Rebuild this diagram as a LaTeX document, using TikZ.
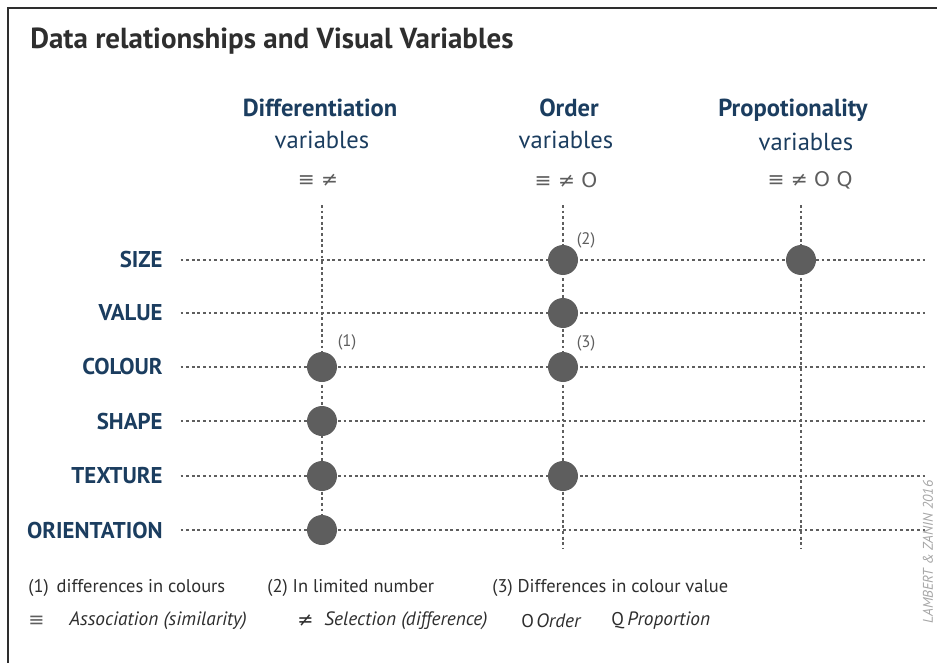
\documentclass[tikz,border=0pt]{standalone}
\usepackage{fontspec}
\usepackage{xcolor}
\usepackage{tikz}
\setmainfont{PT Sans}
\newfontfamily\symfont{DejaVu Sans}
\definecolor{navy}{HTML}{1B3D5F}
\definecolor{dotgray}{HTML}{5E5E5E}
\definecolor{txtgray}{HTML}{2E2E2E}

\begin{document}
\begin{tikzpicture}[x=0.02cm,y=-0.02cm,
      rowlabel/.style={anchor=east,inner sep=0pt,text=navy,
        font=\bfseries\fontsize{13}{15}\selectfont},
      colhead/.style={inner sep=0pt,text=navy,
        font=\bfseries\fontsize{14}{16}\selectfont},
      colsub/.style={inner sep=0pt,text=navy,font=\fontsize{14}{16}\selectfont},
      symbols/.style={inner sep=0pt,text=dotgray,font=\symfont\fontsize{11.5}{13}\selectfont},
      gridline/.style={dotgray,line width=0.7pt,dash pattern=on 1.6pt off 1.6pt},
      vvdot/.style={circle,fill=dotgray,inner sep=0pt,minimum size=0.6cm},
      callout/.style={inner sep=0pt,text=dotgray,font=\fontsize{9.5}{11}\selectfont},
      note/.style={anchor=west,inner sep=0pt,text=txtgray,font=\fontsize{10.5}{12}\selectfont},
      legend/.style={note,font=\itshape\fontsize{11}{13}\selectfont}]
      \useasboundingbox (0,0) rectangle (937,663);
      \draw[txtgray,line width=1.6pt] (8,663) -- (8,8) -- (937,8);
      \node[anchor=base west,inner sep=0pt,text=txtgray,
        font=\bfseries\fontsize{16.5}{19}\selectfont] (title) at (30,48)
        {Data relationships and Visual Variables};
      % column heads
      \node[colhead] (diffhead) at (320,108) {Differentiation};
      \node[colsub] (diffsub) at (322,140) {variables};
      \node[symbols] (diffsym) at (318,180) {≡ ≠};
      \node[colhead] (ordhead) at (569,108) {Order};
      \node[colsub] (ordsub) at (566,140) {variables};
      \node[symbols] (ordsym) at (566,180) {≡ ≠ O};
      \node[colhead] (prophead) at (793,110) {Propotionality};
      \node[colsub] (propsub) at (806,142) {variables};
      \node[symbols] (propsym) at (810,180) {≡ ≠ O Q};
      % row labels
      \node[rowlabel] (size) at (163,260) {SIZE};
      \node[rowlabel] (value) at (163,313) {VALUE};
      \node[rowlabel] (colour) at (163,367) {COLOUR};
      \node[rowlabel] (shape) at (163,421) {SHAPE};
      \node[rowlabel] (texture) at (163,476) {TEXTURE};
      \node[rowlabel] (orient) at (163,530) {ORIENTATION};
      % ends of the grid lines
      \coordinate (difftop) at (322,205);
      \coordinate (diffbot) at (322,545);
      \coordinate (ordtop) at (563,205);
      \coordinate (ordbot) at (563,548);
      \coordinate (proptop) at (801,205);
      \coordinate (propbot) at (801,548);
      \coordinate (sizeend) at (925,260);
      \coordinate (valueend) at (925,313);
      \coordinate (colourend) at (925,367);
      \coordinate (shapeend) at (925,421);
      \coordinate (textureend) at (925,476);
      \coordinate (orientend) at (925,530);
      \draw[gridline] (difftop) -- (diffbot);
      \draw[gridline] (ordtop) -- (ordbot);
      \draw[gridline] (proptop) -- (propbot);
      \draw[gridline] ([xshift=10pt]size.east) -- (sizeend);
      \draw[gridline] ([xshift=10pt]value.east) -- (valueend);
      \draw[gridline] ([xshift=10pt]colour.east) -- (colourend);
      \draw[gridline] ([xshift=10pt]shape.east) -- (shapeend);
      \draw[gridline] ([xshift=10pt]texture.east) -- (textureend);
      \draw[gridline] ([xshift=10pt]orient.east) -- (orientend);
      % dots
      \node[vvdot] (diffcolour) at (322,367) {};
      \node[vvdot] (diffshape) at (322,421) {};
      \node[vvdot] (difftexture) at (322,476) {};
      \node[vvdot] (difforient) at (322,530) {};
      \node[vvdot] (ordsize) at (563,260) {};
      \node[vvdot] (ordvalue) at (563,313) {};
      \node[vvdot] (ordcolour) at (563,367) {};
      \node[vvdot] (ordtexture) at (563,476) {};
      \node[vvdot] (propsize) at (801,260) {};
      \node[callout] (one) at (347,342) {(1)};
      \node[callout] (two) at (586,240) {(2)};
      \node[callout] (three) at (586,343) {(3)};
      % notes and legend
      \node[note] (noteone) at (28,588) {(1)\, differences in colours};
      \node[note] (notetwo) at (267,588) {(2) In limited number};
      \node[note] (notethree) at (492,588) {(3) Differences in colour value};
      \node[note,text=dotgray,font=\symfont\fontsize{11}{13}\selectfont] (assocsym) at (28,621) {≡};
      \node[legend] (assoc) at (69,621) {Association (similarity)};
      \node[note,font=\symfont\fontsize{11}{13}\selectfont] (selsym) at (297,621) {≠};
      \node[legend] (sel) at (324,621) {Selection (difference)};
      \node[note] (ordsign) at (521,621) {O};
      \node[legend] (ordleg) at (536,621) {Order};
      \node[note] (propsign) at (611,621) {Q};
      \node[legend] (propleg) at (627,621) {Proportion};
      \node[rotate=90,inner sep=0pt,text=gray!70,font=\itshape\fontsize{8}{9}\selectfont]
        (credit) at (928,552) {LAMBERT \& ZANIN 2016};
      \end{tikzpicture}
\end{document}
